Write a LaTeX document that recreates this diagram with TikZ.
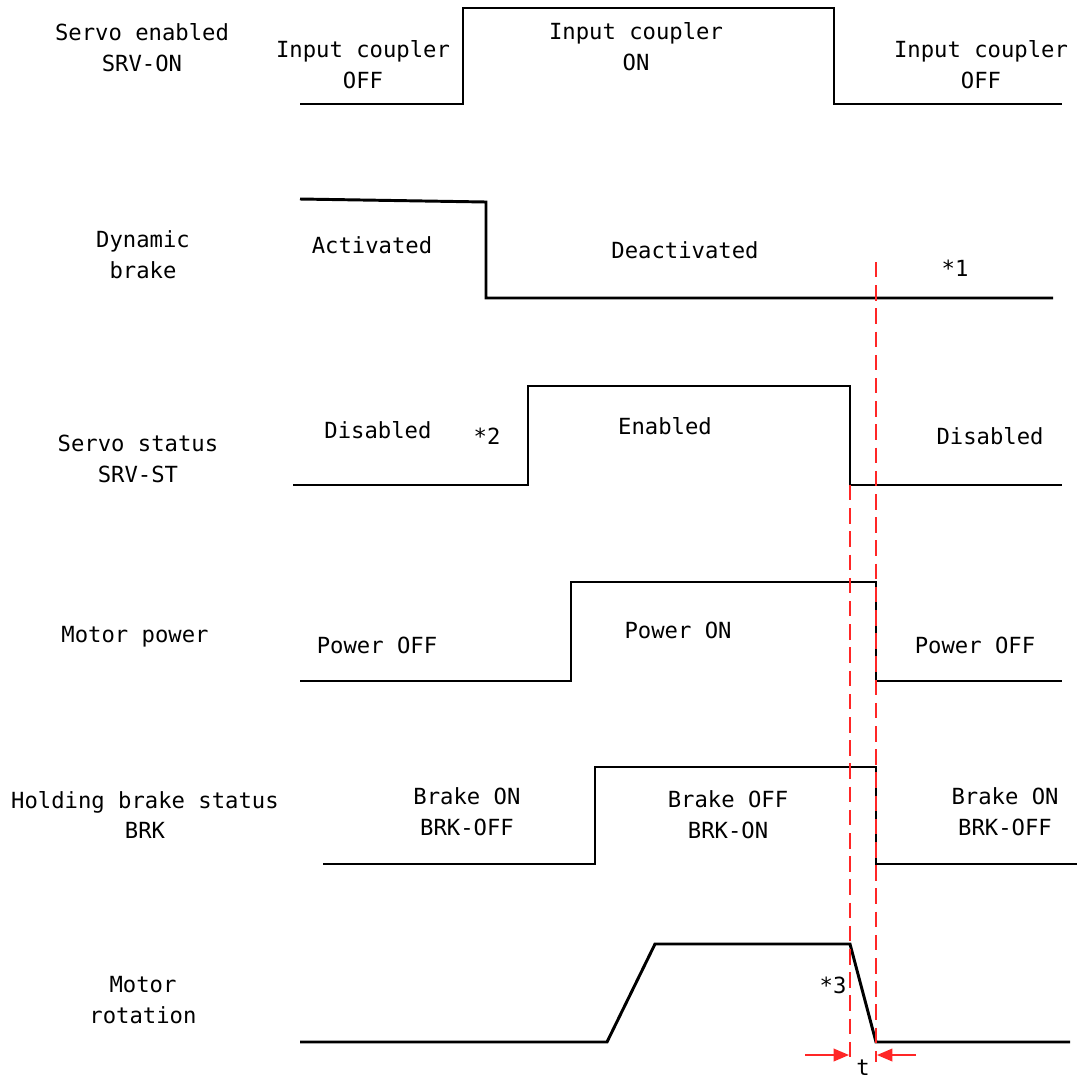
\documentclass[tikz,border=0pt]{standalone}
\usepackage{fontspec}
\setmainfont{DejaVu Sans Mono}
\usetikzlibrary{arrows.meta}
\begin{document}
\begin{tikzpicture}[x=0.025cm, y=-0.025cm,
    every node/.style = {font=\fontsize{15.8}{22}\selectfont, align=center, inner sep=0pt},
    wave/.style = {line width=2.1pt, line join=miter},
    guide/.style = {red!85!white, line width=1.5pt, dash pattern=on 11pt off 5.5pt},
    gap/.style = {red!85!white, line width=1.4pt, -{Triangle[length=11pt, width=9pt]}}]
    \useasboundingbox (0,0) rectangle (1078,1080);

    % signal names
    \node (nsrvon) at (142, 48) {Servo enabled\\SRV-ON};
    \node (ndb) at (143, 255) {Dynamic\\brake};
    \node (nsrvst) at (138, 459) {Servo status\\SRV-ST};
    \node (nmp) at (135, 637) {Motor power};
    \node (nbrk) at (145, 815) {Holding brake status\\BRK};
    \node (nrot) at (143, 1000) {Motor\\rotation};

    % waveforms
    \draw[wave] (300,104) -- (463,104) -- (463,8) -- (834,8) -- (834,104) -- (1062,104);
    \draw[wave] (300,199) -- (486,202) -- (486,298) -- (1053,298);
    \draw[wave] (293,485) -- (528,485) -- (528,386) -- (850,386) -- (850,485) -- (1062,485);
    \draw[wave] (300,681) -- (571,681) -- (571,582) -- (876,582) -- (876,681) -- (1062,681);
    \draw[wave] (323,864) -- (595,864) -- (595,767) -- (876,767) -- (876,864) -- (1077,864);
    \draw[wave] (300,1042) -- (607,1042) -- (655,944) -- (850,944) -- (876,1042) -- (1070,1042);

    % state labels
    \node (coff1) at (363, 65) {Input coupler\\OFF};
    \node (con) at (636, 47) {Input coupler\\ON};
    \node (coff2) at (981, 65) {Input coupler\\OFF};

    \node (act) at (372, 245) {Activated};
    \node (deact) at (685, 250) {Deactivated};
    \node (s1) at (955, 268) {*1};

    \node (dis1) at (378, 430) {Disabled};
    \node (s2) at (487, 436) {*2};
    \node (ena) at (665, 426) {Enabled};
    \node (dis2) at (990, 436) {Disabled};

    \node (poff1) at (377, 645) {Power OFF};
    \node (pon) at (678, 630) {Power ON};
    \node (poff2) at (975, 645) {Power OFF};

    \node (bon1) at (467, 812) {Brake ON\\BRK-OFF};
    \node (boff) at (728, 815) {Brake OFF\\BRK-ON};
    \node (bon2) at (1005, 812) {Brake ON\\BRK-OFF};

    \node (s3) at (833, 985) {*3};
    \node (t) at (863, 1068) {t};

    % timing guides
    \coordinate (ga1) at (876, 262);
    \coordinate (ga2) at (876, 1062);
    \coordinate (gb1) at (850, 485);
    \coordinate (gb2) at (850, 1060);
    \draw[guide] (ga1) -- (ga2);
    \draw[guide] (gb1) -- (gb2);

    \coordinate (al) at (805, 1055);
    \coordinate (ar) at (916, 1055);
    \draw[gap] (al) -- (849, 1055);
    \draw[gap] (ar) -- (877, 1055);

\end{tikzpicture}
\end{document}
